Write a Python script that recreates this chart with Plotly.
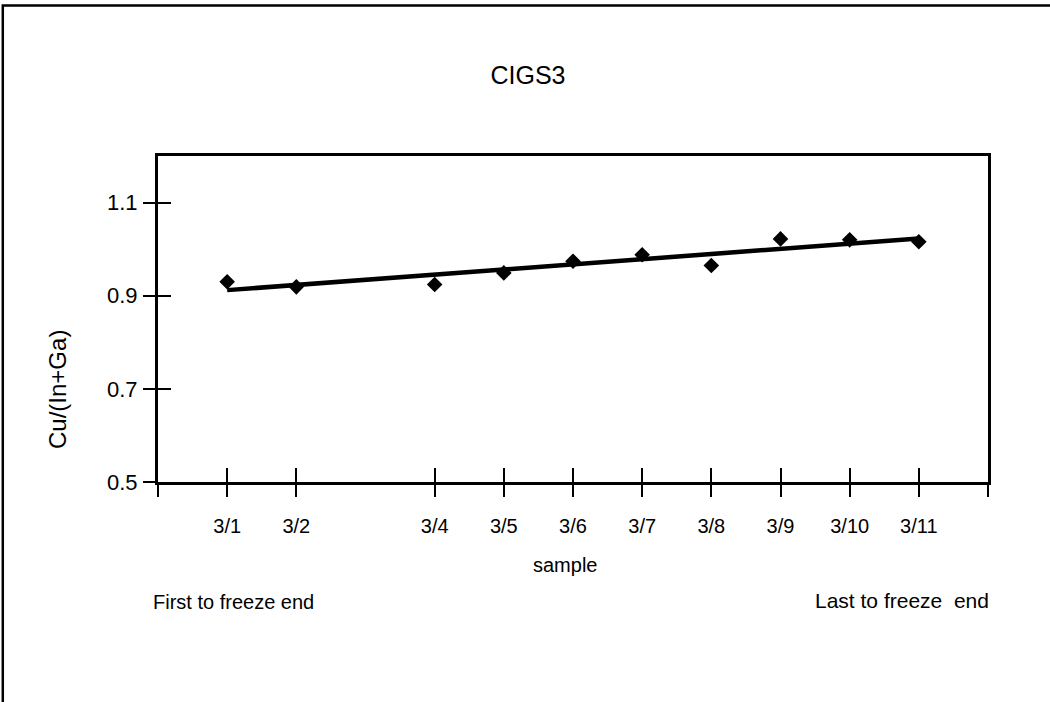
import numpy as np
import plotly.graph_objects as go

# ---- data ----
samples = ["3/1", "3/2", "3/4", "3/5", "3/6", "3/7", "3/8", "3/9", "3/10", "3/11"]
positions = [1, 2, 4, 5, 6, 7, 8, 9, 10, 11]
ratio = [0.930, 0.919, 0.924, 0.949, 0.974, 0.988, 0.965, 1.022, 1.020, 1.016]
y_ticks = [0.5, 0.7, 0.9, 1.1]
y_ticktext = ["0.5", "0.7", "0.9", "1.1"]
x_range = [0, 12]
y_range = [0.5, 1.2]
chart_title = "CIGS3"
x_title = "sample"
y_title = "Cu/(In+Ga)"
left_note = "First to freeze end"
right_note = "Last to freeze\u00a0 end"

# linear trend line (least squares fit of the data)
slope, intercept = np.polyfit(positions, ratio, 1)
fit_x = [positions[0], positions[-1]]
fit_y = [slope * v + intercept for v in fit_x]

x_tickvals = [x_range[0]] + positions + [x_range[1]]
x_ticktext = [""] + samples + [""]

FONT = "Liberation Sans, Arial, sans-serif"

fig = go.Figure()
fig.add_trace(go.Scatter(
    x=fit_x, y=fit_y, mode="lines",
    line=dict(color="black", width=4.5), showlegend=False, hoverinfo="skip"))
fig.add_trace(go.Scatter(
    x=positions, y=ratio, mode="markers",
    marker=dict(symbol="diamond", size=12, color="black"),
    showlegend=False))
# helper trace for overlay axes (inward half of crossing ticks)
fig.add_trace(go.Scatter(x=[None], y=[None], xaxis="x2", yaxis="y2",
                         showlegend=False, hoverinfo="skip"))

axis_common = dict(showgrid=False, zeroline=False, tickcolor="black",
                   tickwidth=2)

fig.update_layout(
    width=1050, height=702,
    margin=dict(l=158, r=62, t=156, b=220),
    paper_bgcolor="white", plot_bgcolor="white",
    font=dict(family=FONT, color="black", size=20),
    title=dict(text=chart_title, x=528 / 1050, xanchor="center",
               y=1 - 75 / 702, yanchor="middle", xref="container",
               yref="container",
               font=dict(size=25, family=FONT, color="black")),
    xaxis=dict(range=x_range, tickmode="array", tickvals=x_tickvals,
               ticktext=x_ticktext, ticks="outside", ticklen=12,
               showline=True, linecolor="black", linewidth=3, mirror=True,
               tickfont=dict(size=20), ticklabelstandoff=12,
               **axis_common),
    xaxis2=dict(range=x_range, overlaying="x", anchor="y", side="bottom",
                tickmode="array", tickvals=x_tickvals, ticks="inside",
                ticklen=14, showticklabels=False, showline=False,
                **axis_common),
    yaxis=dict(range=y_range, tickmode="array", tickvals=y_ticks,
               ticktext=y_ticktext, ticks="outside", ticklen=12,
               showline=True, linecolor="black", linewidth=3, mirror=True,
               tickfont=dict(size=22), ticklabelstandoff=1,
               **axis_common),
    yaxis2=dict(range=y_range, overlaying="y", anchor="x", side="left",
                tickmode="array", tickvals=y_ticks, ticks="inside",
                ticklen=13, showticklabels=False, showline=False,
                **axis_common),
)

# outer frame (top and left edges)
fig.add_shape(type="path", xref="paper", yref="paper",
              path="M -0.187,-0.75 L -0.187,1.462 L 1.1,1.462",
              line=dict(color="black", width=2.5))

ann = [
    dict(text=x_title, x=(565 - 158) / 830, y=(482 - 565) / 326, size=20, angle=0, anchor="center"),
    dict(text=y_title, x=(57 - 158) / 830, y=(482 - 390) / 326, size=24, angle=-90, anchor="center"),
    dict(text=left_note, x=(233 - 158) / 830, y=(482 - 602) / 326, size=20, angle=0, anchor="center"),
    dict(text=right_note, x=(991 - 158) / 830, y=(482 - 600) / 326, size=21, angle=0, anchor="right"),
]
for a in ann:
    fig.add_annotation(text=a["text"], x=a["x"], y=a["y"], xref="paper",
                       yref="paper", xanchor=a["anchor"], yanchor="middle",
                       showarrow=False, textangle=a["angle"],
                       font=dict(size=a["size"], family=FONT, color="black"))

fig.write_html("out.html")
